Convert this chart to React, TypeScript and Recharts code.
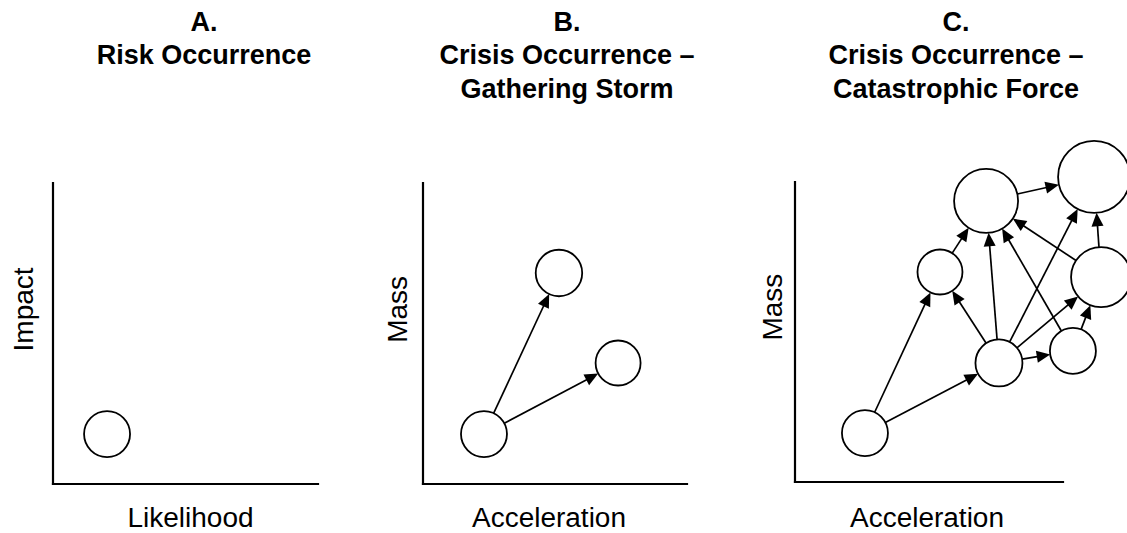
import React from 'react';
import { ScatterChart, Scatter, XAxis, YAxis, ZAxis, ReferenceLine } from 'recharts';

type Node = { id: string; x: number; y: number; z: number };
type Edge = [string, string];

// ---------- DATA ----------
const panelLetters = ['A.', 'B.', 'C.'];
const panelTitles = [
  ['Risk Occurrence'],
  ['Crisis Occurrence –', 'Gathering Storm'],
  ['Crisis Occurrence –', 'Catastrophic Force'],
];
const xAxisTitles = ['Likelihood', 'Acceleration', 'Acceleration'];
const yAxisTitles = ['Impact', 'Mass', 'Mass'];

// x, y on a 0..100 axis scale; z = node magnitude (circle area / π)
const riskNodes: Node[] = [{ id: 'r1', x: 20.4, y: 16.6, z: 529 }];
const riskEdges: Edge[] = [];

const stormNodes: Node[] = [
  { id: 's1', x: 23.1, y: 16.6, z: 529 },
  { id: 's2', x: 51.5, y: 70.1, z: 540 },
  { id: 's3', x: 73.9, y: 40.2, z: 506 },
];
const stormEdges: Edge[] = [
  ['s1', 's2'],
  ['s1', 's3'],
];

const forceNodes: Node[] = [
  { id: 'c1', x: 26.1, y: 16.3, z: 529 },
  { id: 'c2', x: 54.1, y: 70.0, z: 506 },
  { id: 'c3', x: 71.3, y: 93.7, z: 1024 },
  { id: 'c4', x: 111.6, y: 101.7, z: 1296 },
  { id: 'c5', x: 76.1, y: 39.7, z: 552 },
  { id: 'c6', x: 103.7, y: 43.7, z: 529 },
  { id: 'c7', x: 114.2, y: 68.3, z: 900 },
];
const forceEdges: Edge[] = [
  ['c1', 'c2'],
  ['c1', 'c5'],
  ['c2', 'c3'],
  ['c5', 'c2'],
  ['c5', 'c3'],
  ['c5', 'c4'],
  ['c5', 'c7'],
  ['c5', 'c6'],
  ['c6', 'c7'],
  ['c6', 'c3'],
  ['c7', 'c3'],
  ['c7', 'c4'],
  ['c3', 'c4'],
];

const panelNodes = [riskNodes, stormNodes, forceNodes];
const panelEdges = [riskEdges, stormEdges, forceEdges];

// ---------- LAYOUT / STYLE ----------
const AXIS_END = 100;
const DOMAIN_MAX = 120;
const Z_MAX = 2000;
const FONT = '"Liberation Sans", Arial, Helvetica, sans-serif';
const PAGE_H = 533;
const RIGHT_PAD = 14;

const LAYOUT = [
  { left: 0, yAxisW: 53, axisW: 265, top: 183, axisH: 301, titleX: 204, xLabelDx: 5, xLabelDy: 43, yLabelDx: -20, yLabelFrac: 0.42 },
  { left: 370, yAxisW: 53, axisW: 264, top: 183, axisH: 301, titleX: 567, xLabelDx: -6, xLabelDy: 43, yLabelDx: -16, yLabelFrac: 0.42 },
  { left: 740, yAxisW: 55, axisW: 268, top: 182, axisH: 300, titleX: 956, xLabelDx: -2, xLabelDy: 45, yLabelDx: -13, yLabelFrac: 0.417 },
];

const radiusOf = (z: number) => Math.sqrt(z); // matches ZAxis range = domain * π

const NodeShape = (p: any) => {
  const r = p.width != null ? p.width / 2 : Math.sqrt(Math.max(p.size || 0, 0) / Math.PI);
  return <circle cx={p.cx} cy={p.cy} r={r} fill="#fff" stroke="#000" strokeWidth={1.8} />;
};

const makeArrow = (r1: number, r2: number) => (p: any) => {
  const { x1, y1, x2, y2 } = p;
  const dx = x2 - x1;
  const dy = y2 - y1;
  const len = Math.hypot(dx, dy) || 1;
  const ux = dx / len;
  const uy = dy / len;
  const sx = x1 + ux * r1;
  const sy = y1 + uy * r1;
  const tx = x2 - ux * r2;
  const ty = y2 - uy * r2;
  const HL = 13.5;
  const HW = 6;
  const bx = tx - ux * HL;
  const by = ty - uy * HL;
  const px = -uy;
  const py = ux;
  return (
    <g>
      <line x1={sx} y1={sy} x2={bx + ux * 2} y2={by + uy * 2} stroke="#000" strokeWidth={1.7} />
      <polygon
        points={`${tx},${ty} ${bx + px * HW},${by + py * HW} ${bx - px * HW},${by - py * HW}`}
        fill="#000"
      />
    </g>
  );
};

function Panel({ idx }: { idx: number }) {
  const L = LAYOUT[idx];
  const nodes = panelNodes[idx];
  const edges = panelEdges[idx];
  const plotW = (L.axisW * DOMAIN_MAX) / AXIS_END;
  const plotH = (L.axisH * DOMAIN_MAX) / AXIS_END;
  const bottom = L.top + L.axisH;
  const marginTop = bottom - plotH;
  const xAxisH = PAGE_H - bottom;
  const width = L.yAxisW + plotW + RIGHT_PAD;
  const byId: Record<string, Node> = {};
  nodes.forEach((n) => (byId[n.id] = n));

  const renderXLabel = (props: any) => {
    const vb = props.viewBox || {};
    const cx = vb.x + (vb.width * (AXIS_END / DOMAIN_MAX)) / 2 + L.xLabelDx;
    const by = vb.y + L.xLabelDy;
    return (
      <text x={cx} y={by} textAnchor="middle" fontSize={28} fontFamily={FONT} fill="#000">
        {xAxisTitles[idx]}
      </text>
    );
  };
  const renderYLabel = (props: any) => {
    const vb = props.viewBox || {};
    const axisX = vb.x + vb.width;
    const axisLen = vb.height * (AXIS_END / DOMAIN_MAX);
    const axisTop = vb.y + vb.height - axisLen;
    const bx = axisX + L.yLabelDx;
    const cy = axisTop + axisLen * L.yLabelFrac;
    return (
      <text
        x={bx}
        y={cy}
        transform={`rotate(-90 ${bx} ${cy})`}
        textAnchor="middle"
        fontSize={28}
        fontFamily={FONT}
        fill="#000"
      >
        {yAxisTitles[idx]}
      </text>
    );
  };

  return (
    <div style={{ position: 'absolute', left: L.left, top: 0 }}>
      <ScatterChart
        width={width}
        height={PAGE_H}
        margin={{ top: marginTop, right: RIGHT_PAD, bottom: 0, left: 0 }}
      >
        <XAxis
          type="number"
          dataKey="x"
          domain={[0, DOMAIN_MAX]}
          scale="linear"
          tickCount={5}
          axisLine={false}
          tickLine={false}
          tick={false}
          height={xAxisH}
          label={renderXLabel}
        />
        <YAxis
          type="number"
          dataKey="y"
          domain={[0, DOMAIN_MAX]}
          scale="linear"
          tickCount={5}
          axisLine={false}
          tickLine={false}
          tick={false}
          width={L.yAxisW}
          label={renderYLabel}
        />
        <ZAxis type="number" dataKey="z" domain={[0, Z_MAX]} range={[0, Z_MAX * Math.PI]} scale="linear" />
        <ReferenceLine
          segment={[
            { x: 0, y: 0 },
            { x: 0, y: AXIS_END },
          ]}
          stroke="#000"
          strokeWidth={2.2}
          strokeLinecap="square"
        />
        <ReferenceLine
          segment={[
            { x: 0, y: 0 },
            { x: AXIS_END, y: 0 },
          ]}
          stroke="#000"
          strokeWidth={2.2}
          strokeLinecap="square"
        />
        {edges.map(([a, b]) => {
          const s = byId[a];
          const t = byId[b];
          return (
            <ReferenceLine
              key={`${a}-${b}`}
              segment={[
                { x: s.x, y: s.y },
                { x: t.x, y: t.y },
              ]}
              stroke="#000"
              shape={makeArrow(radiusOf(s.z), radiusOf(t.z))}
            />
          );
        })}
        <Scatter data={nodes} shape={NodeShape} isAnimationActive={false} />
      </ScatterChart>
    </div>
  );
}

export default function App() {
  return (
    <div
      style={{
        position: 'absolute',
        left: 0,
        top: 0,
        width: 1127,
        height: PAGE_H,
        overflow: 'hidden',
        background: '#fff',
      }}
    >
      {[0, 1, 2].map((i) => (
        <Panel key={i} idx={i} />
      ))}
      <svg
        width={1127}
        height={PAGE_H}
        style={{ position: 'absolute', left: 0, top: 0, pointerEvents: 'none' }}
      >
        {LAYOUT.map((L, i) => (
          <g key={i} fontFamily={FONT} fontWeight="bold" fontSize={27} textAnchor="middle" fill="#000">
            <text x={L.titleX} y={30.5}>
              {panelLetters[i]}
            </text>
            {panelTitles[i].map((line, j) => (
              <text key={j} x={L.titleX} y={64 + j * 33.5}>
                {line}
              </text>
            ))}
          </g>
        ))}
      </svg>
    </div>
  );
}
